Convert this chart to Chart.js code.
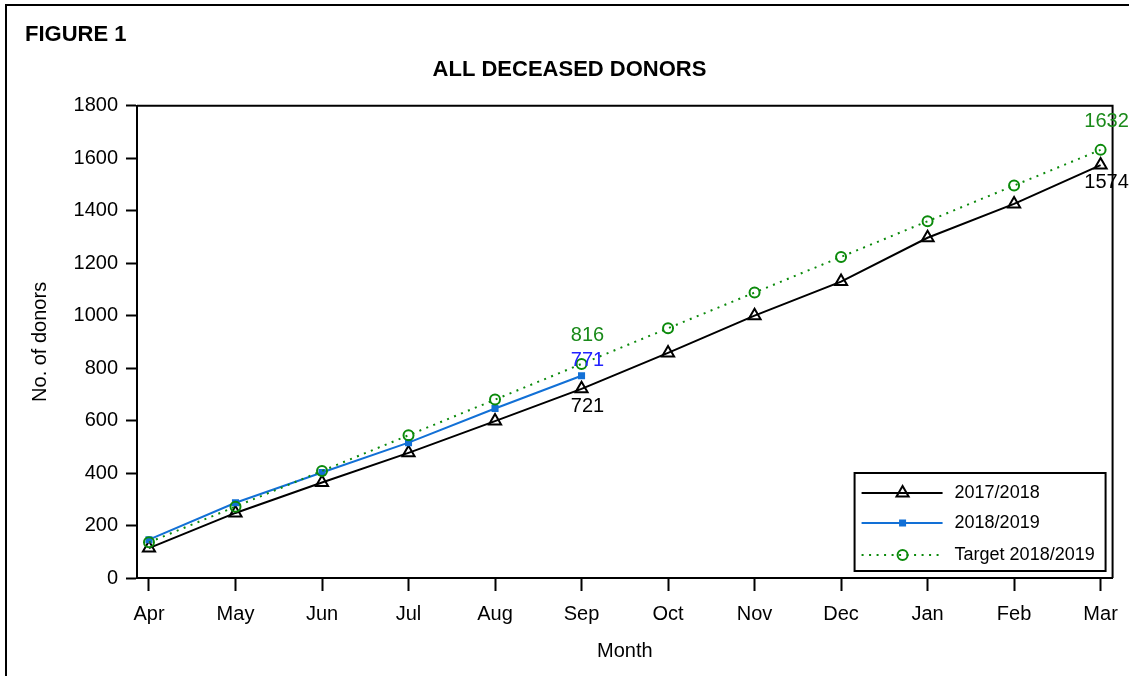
<!DOCTYPE html>
<html>
<head>
<meta charset="utf-8">
<script src="https://cdn.jsdelivr.net/npm/chart.js@4"></script>
<style>
  html, body { margin: 0; padding: 0; background: #fff; }
  #wrap { position: relative; width: 1129px; height: 676px; }
</style>
</head>
<body>
<div id="wrap"><canvas id="chart" width="1129" height="676"></canvas></div>
<script>
const months = ['Apr', 'May', 'Jun', 'Jul', 'Aug', 'Sep', 'Oct', 'Nov', 'Dec', 'Jan', 'Feb', 'Mar'];
const donors1718 = [114, 248, 364, 477, 598, 721, 858, 1000, 1130, 1297, 1426, 1574];
const donors1819 = [146, 287, 402, 516, 646, 771];
const target1819 = [136, 272, 408, 544, 680, 816, 952, 1088, 1224, 1360, 1496, 1632];
const yTicks = [0, 200, 400, 600, 800, 1000, 1200, 1400, 1600, 1800];

const FONT = "'Liberation Sans', Arial, sans-serif";
const GREEN = '#0b8a0b';
const BLUE = '#1270d6';

// which points get a value label: [dataset, index, dy, colour]
const valueLabels = [
  [2, 5, -28, '#1a8a1a'],
  [1, 5, -15, '#2222ff'],
  [0, 5, 18, '#000'],
  [2, 11, -28, '#1a8a1a'],
  [0, 11, 17, '#000'],
];

function marker(ctx, style, x, y, color) {
  ctx.save();
  ctx.strokeStyle = color; ctx.fillStyle = color; ctx.lineWidth = 2;
  ctx.beginPath();
  if (style === 'triangle') {
    const r = 7;
    ctx.moveTo(x, y - r);
    ctx.lineTo(x + r * 0.866, y + r / 2);
    ctx.lineTo(x - r * 0.866, y + r / 2);
    ctx.closePath();
    ctx.stroke();
  } else if (style === 'rect') {
    ctx.fillRect(x - 3.5, y - 3.5, 7, 7);
  } else {
    ctx.arc(x, y, 5, 0, Math.PI * 2);
    ctx.stroke();
  }
  ctx.restore();
}

const decor = {
  id: 'decor',
  beforeDraw(chart) {
    const ctx = chart.ctx;
    ctx.save();
    ctx.strokeStyle = '#000'; ctx.lineWidth = 2;
    ctx.beginPath();
    ctx.moveTo(6, 676); ctx.lineTo(6, 5); ctx.lineTo(1129, 5);
    ctx.stroke();
    ctx.restore();
  },
  afterDraw(chart) {
    const ctx = chart.ctx;
    const a = chart.chartArea;
    ctx.save();
    // frame top + right
    ctx.strokeStyle = '#000'; ctx.lineWidth = 2;
    ctx.beginPath();
    ctx.moveTo(a.left, a.top); ctx.lineTo(a.right, a.top); ctx.lineTo(a.right, a.bottom);
    ctx.stroke();

    // value labels
    ctx.font = '20px ' + FONT;
    ctx.textAlign = 'center'; ctx.textBaseline = 'middle';
    valueLabels.forEach(([d, i, dy, col]) => {
      const pt = chart.getDatasetMeta(d).data[i];
      const v = chart.data.datasets[d].data[i].y;
      ctx.fillStyle = col;
      ctx.fillText(String(v), pt.x + 6, pt.y + dy);
    });

    // legend box
    const bx = a.right - 258, by = a.bottom - 105, bw = 251, bh = 98;
    ctx.fillStyle = '#fff';
    ctx.fillRect(bx, by, bw, bh);
    ctx.strokeStyle = '#000'; ctx.lineWidth = 2;
    ctx.strokeRect(bx, by, bw, bh);
    const rows = [20, 50, 82];
    chart.data.datasets.forEach((ds, k) => {
      const y = by + rows[k];
      ctx.save();
      ctx.strokeStyle = ds.borderColor; ctx.lineWidth = ds.borderWidth;
      ctx.setLineDash(ds.borderDash || []);
      ctx.beginPath(); ctx.moveTo(bx + 7, y); ctx.lineTo(bx + 88, y); ctx.stroke();
      ctx.restore();
      marker(ctx, ds.pointStyle, bx + 48, y, ds.pointBorderColor);
      ctx.fillStyle = '#000';
      ctx.font = '18px ' + FONT;
      ctx.textAlign = 'left'; ctx.textBaseline = 'middle';
      ctx.fillText(ds.label, bx + 100, y);
    });
    ctx.restore();
  }
};

const xy = arr => arr.map((v, i) => ({ x: i, y: v }));

new Chart(document.getElementById('chart'), {
  type: 'line',
  data: {
    datasets: [
      { label: '2017/2018', data: xy(donors1718), borderColor: '#000', borderWidth: 2,
        pointStyle: 'triangle', pointRadius: 7, pointBorderWidth: 2, pointBorderColor: '#000',
        pointBackgroundColor: 'rgba(0,0,0,0)', tension: 0, order: 3 },
      { label: '2018/2019', data: xy(donors1819), borderColor: BLUE, borderWidth: 2,
        pointStyle: 'rect', pointRadius: 5, pointBorderWidth: 0, pointBorderColor: BLUE,
        pointBackgroundColor: BLUE, tension: 0, order: 2 },
      { label: 'Target 2018/2019', data: xy(target1819), borderColor: GREEN, borderWidth: 2,
        borderDash: [2, 5.5], pointStyle: 'circle', pointRadius: 5, pointBorderWidth: 2,
        pointBorderColor: GREEN, pointBackgroundColor: 'rgba(0,0,0,0)', tension: 0, order: 1 },
    ],
  },
  options: {
    responsive: false, animation: false,
    layout: { padding: { left: 25, right: 15, top: 0, bottom: 0 } },
    plugins: {
      legend: { display: false },
      tooltip: { enabled: false },
      title: { display: true, text: 'FIGURE 1', align: 'start', color: '#000',
        font: { family: FONT, size: 22, weight: 'bold' }, padding: { top: 22, bottom: 0 } },
      subtitle: { display: true, text: 'ALL DECEASED DONORS', color: '#000',
        font: { family: FONT, size: 22, weight: 'bold' }, padding: { top: 8, bottom: 23 } },
    },
    scales: {
      x: {
        type: 'linear', min: -0.1385, max: 11.1385,
        afterBuildTicks: axis => { axis.ticks = months.map((m, i) => ({ value: i })); },
        afterFit: axis => { axis.height = 98; },
        grid: { drawOnChartArea: false, drawTicks: true, tickLength: 13, tickColor: '#000', tickWidth: 2 },
        border: { display: true, color: '#000', width: 2 },
        ticks: { color: '#000', padding: 11, font: { family: FONT, size: 20 }, maxRotation: 0,
          callback: v => months[v] },
        title: { display: true, text: 'Month', color: '#000', font: { family: FONT, size: 20 },
          padding: { top: 0, bottom: 13 } },
      },
      y: {
        min: 0, max: 1800,
        afterBuildTicks: axis => { axis.ticks = yTicks.map(v => ({ value: v })); },
        afterFit: axis => { axis.width = 112; },
        grid: { drawOnChartArea: false, drawTicks: true, tickLength: 11, tickColor: '#000', tickWidth: 2 },
        border: { display: true, color: '#000', width: 2 },
        ticks: { color: '#000', padding: 8, font: { family: FONT, size: 20 }, callback: v => String(v) },
        title: { display: true, text: 'No. of donors', color: '#000', font: { family: FONT, size: 20 },
          padding: { top: 3, bottom: 0 } },
      },
    },
  },
  plugins: [decor],
});
</script>
</body>
</html>
